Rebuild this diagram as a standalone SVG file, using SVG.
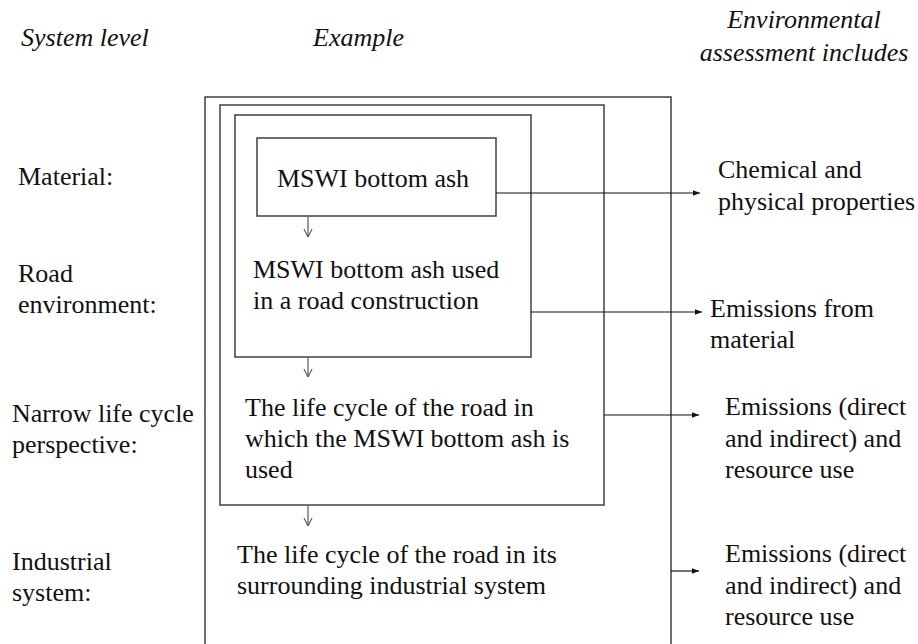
<svg xmlns="http://www.w3.org/2000/svg" width="918" height="644" viewBox="0 0 918 644">
<style>
text{font-family:"Liberation Serif","Times New Roman",Times,Tinos,"Noto Serif","DejaVu Serif",FreeSerif,serif;font-size:26px;fill:#111}
.h{font-style:italic}
.box{fill:none;stroke:#404040;stroke-width:1.5}
.con{fill:none;stroke:#111;stroke-width:1.2}
.dn{fill:none;stroke:#555;stroke-width:1.2}
</style>
<defs>
<marker id="ah" viewBox="0 0 10 10" refX="10" refY="5" markerWidth="7" markerHeight="7" markerUnits="userSpaceOnUse" orient="auto">
<path d="M0,1 L10,5 L0,9 Z" fill="#111"/>
</marker>
<marker id="vh" viewBox="0 0 10 10" refX="10" refY="5" markerWidth="9" markerHeight="12" markerUnits="userSpaceOnUse" orient="auto">
<path d="M1,0.5 L10,5 L1,9.5" fill="none" stroke="#555" stroke-width="1.2"/>
</marker>
</defs>
<rect width="918" height="644" fill="#fff"/>
<g id="headings">
<text class="h" x="21" y="46">System level</text>
<text class="h" x="313" y="46">Example</text>
<text class="h" x="804" y="28" text-anchor="middle">Environmental</text>
<text class="h" x="804" y="61" text-anchor="middle">assessment includes</text>
</g>
<g id="levels">
<text x="18" y="185">Material:</text>
<text x="18" y="282">Road</text>
<text x="18" y="313">environment:</text>
<text x="12" y="422">Narrow life cycle</text>
<text x="12" y="453">perspective:</text>
<text x="12" y="570">Industrial</text>
<text x="12" y="601">system:</text>
</g>
<g id="industrial">
<path class="box" d="M205,650 V97 H671 V650"/>
<text x="237" y="563">The life cycle of the road in its</text>
<text x="237" y="594">surrounding industrial system</text>
</g>
<g id="narrow">
<rect class="box" x="220" y="105" width="384" height="400"/>
<text x="245" y="416">The life cycle of the road in</text>
<text x="245" y="447">which the MSWI bottom ash is</text>
<text x="245" y="478">used</text>
</g>
<g id="road">
<rect class="box" x="235" y="115" width="296" height="242"/>
<text x="253" y="278">MSWI bottom ash used</text>
<text x="253" y="309">in a road construction</text>
</g>
<g id="material">
<rect class="box" x="257" y="138" width="239" height="78"/>
<text x="277" y="187">MSWI bottom ash</text>
</g>
<g id="outcomes">
<text x="718" y="178">Chemical and</text>
<text x="718" y="210">physical properties</text>
<text x="710" y="317">Emissions from</text>
<text x="710" y="348">material</text>
<text x="725" y="415">Emissions (direct</text>
<text x="725" y="447">and indirect) and</text>
<text x="725" y="478">resource use</text>
<text x="725" y="562">Emissions (direct</text>
<text x="725" y="594">and indirect) and</text>
<text x="725" y="625">resource use</text>
</g>
<g id="connectors">
<line class="con" x1="496" y1="193" x2="700" y2="193" marker-end="url(#ah)"/>
<line class="con" x1="531" y1="312" x2="702" y2="312" marker-end="url(#ah)"/>
<line class="con" x1="604" y1="415" x2="699" y2="415" marker-end="url(#ah)"/>
<line class="con" x1="671" y1="571" x2="699" y2="571" marker-end="url(#ah)"/>
<line class="dn" x1="308" y1="217" x2="308" y2="237" marker-end="url(#vh)"/>
<line class="dn" x1="308" y1="358" x2="308" y2="377" marker-end="url(#vh)"/>
<line class="dn" x1="308" y1="506" x2="308" y2="526" marker-end="url(#vh)"/>
</g>
</svg>
